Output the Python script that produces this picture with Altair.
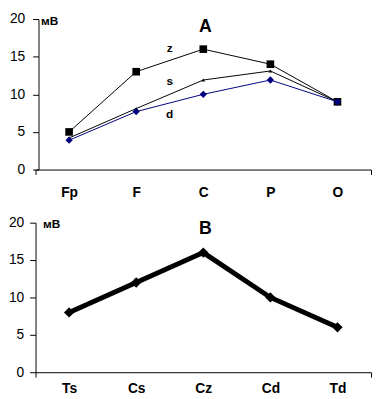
import altair as alt
import pandas as pd

# ---- data ----
cats_a = ["Fp", "F", "C", "P", "O"]
z_vals = [5, 13, 16, 14, 9]
s_vals = [4.2, 8.1, 11.9, 13.1, 9]
d_vals = [3.9, 7.7, 10, 11.9, 9]
series_names = ["z", "s", "d"]
series_colors = ["#000000", "#000000", "#000080"]
series_shapes = ["square", "triangle-up", "diamond"]
series_sizes = [60, 14, 55]
label_x = [1.5, 1.5, 1.5]
label_y = [16.2, 11.7, 7.4]

cats_b = ["Ts", "Cs", "Cz", "Cd", "Td"]
b_vals = [8, 12, 16, 10, 6]

panel_titles = ["A", "B"]
title_x = [2.03, 2.03]
title_y = [18.9, 19.2]

y_ticks = [0, 5, 10, 15, 20]
unit = "мВ"
FONT = "Liberation Sans"


def x_enc(cats, pad):
    n = len(cats)
    expr = ("datum.value % 1 === 0 ? [" + ",".join("'%s'" % c for c in cats)
            + "][datum.value] : ''")
    return alt.X(
        "idx:Q",
        scale=alt.Scale(domain=[-0.5, n - 0.5], nice=False, zero=False),
        axis=alt.Axis(
            values=[-0.5] + list(range(n)) + [n - 0.5], labelExpr=expr,
            ticks=True, tickColor="black",
            tickSize={"condition": {"test": "datum.value % 1 !== 0", "value": 5},
                      "value": 0},
            grid=False,
            title=None, domainColor="black", labelColor="black", labelFont=FONT,
            labelFontSize=14, labelFontWeight="bold", labelPadding=pad,
            labelFlush=False,
        ),
    )


def y_enc(offset, lpad, tx, ty):
    return alt.Y(
        "v:Q",
        scale=alt.Scale(domain=[0, 20], nice=False, zero=True),
        axis=alt.Axis(
            values=y_ticks, tickCount=5, labelOverlap=False, grid=False,
            tickSize=6, tickColor="black",
            domainColor="black", labelColor="black", labelFont=FONT,
            labelFontSize=14, labelPadding=lpad, offset=offset,
            title=unit, titleAngle=0, titleX=tx, titleY=ty, titleAlign="left",
            titleBaseline="middle", titleFont=FONT, titleFontSize=12,
            titleFontWeight="bold", titleColor="black",
        ),
    )


# ---- panel A ----
xa = x_enc(cats_a, 16)
ya = y_enc(-3, 8, 2, 2)
layers_a = []
for name, vals, c, shp, sz in zip(series_names, [z_vals, s_vals, d_vals],
                                  series_colors, series_shapes, series_sizes):
    df = pd.DataFrame({"idx": list(range(len(vals))), "v": vals})
    base = alt.Chart(df).encode(x=xa, y=ya)
    layers_a.append(base.mark_line(strokeWidth=1, color=c))
    layers_a.append(base.mark_point(filled=True, opacity=1, shape=shp, size=sz,
                                    color=c))

df_lab = pd.DataFrame({"t": series_names, "idx": label_x, "v": label_y})
layers_a.append(alt.Chart(df_lab).mark_text(
    font=FONT, fontSize=12, fontWeight="bold", color="black").encode(
    x=xa, y=ya, text="t:N"))

df_ta = pd.DataFrame({"t": [panel_titles[0]], "idx": [title_x[0]], "v": [title_y[0]]})
layers_a.append(alt.Chart(df_ta).mark_text(
    font=FONT, fontSize=18, fontWeight="bold", color="black").encode(
    x=xa, y=ya, text="t:N"))

top = alt.layer(*layers_a).properties(width=341, height=153)

# ---- panel B ----
xb = x_enc(cats_b, 10)
yb = y_enc(0, 6, 7, 1)
df_b = pd.DataFrame({"idx": list(range(len(cats_b))), "v": b_vals})
base_b = alt.Chart(df_b).encode(x=xb, y=yb)
line_b = base_b.mark_line(strokeWidth=5, color="black")
pts_b = base_b.mark_point(filled=True, opacity=1, shape="diamond", size=110,
                          color="black")
df_tb = pd.DataFrame({"t": [panel_titles[1]], "idx": [title_x[1]], "v": [title_y[1]]})
txt_b = alt.Chart(df_tb).mark_text(
    font=FONT, fontSize=18, fontWeight="bold", color="black").encode(
    x=xb, y=yb, text="t:N")

bottom = alt.layer(line_b, pts_b, txt_b).properties(width=341, height=152)

chart = alt.vconcat(top, bottom, spacing=54, bounds="flush").properties(
    padding={"left": 0, "top": 1, "right": 0, "bottom": 0},
    background="white",
).configure_view(stroke=None)

chart.save("out.html", embed_options={"renderer": "svg", "actions": False})
